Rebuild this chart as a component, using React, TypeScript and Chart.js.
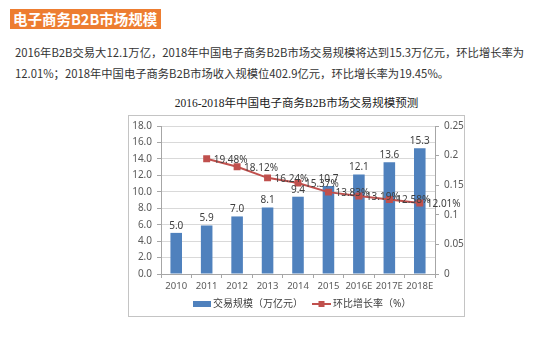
import React, { useEffect, useRef } from "react";
import { Chart, registerables } from "chart.js";

Chart.register(...registerables);

const categories = ["2010", "2011", "2012", "2013", "2014", "2015", "2016E", "2017E", "2018E"];
const tradeScale = [5.0, 5.9, 7.0, 8.1, 9.4, 10.7, 12.1, 13.6, 15.3];
const growthRate = [null, 0.1948, 0.1812, 0.1624, 0.1537, 0.1383, 0.1319, 0.1258, 0.1201];
const barLegend = "交易规模（万亿元）";
const lineLegend = "环比增长率（%）";
const chartTitle = "2016-2018年中国电子商务B2B市场交易规模预测";
const headerText = "电子商务B2B市场规模";
const paraLine1 = "2016年B2B交易大12.1万亿，2018年中国电子商务B2B市场交易规模将达到15.3万亿元，环比增长率为";
const paraLine2 = "12.01%；2018年中国电子商务B2B市场收入规模位402.9亿元，环比增长率为19.45%。";

const BLUE = "#4F81BD";
const RED = "#C0504D";
const FONT = "'Noto Sans', 'Noto Sans CJK SC', sans-serif";

const labelPlugin = {
  id: "customLabels",
  afterDatasetsDraw(chart: any) {
    const ctx = chart.ctx;
    ctx.save();
    ctx.font = "10px " + FONT;
    ctx.fillStyle = "#404040";
    const barMeta = chart.getDatasetMeta(0);
    barMeta.data.forEach((el: any, i: number) => {
      ctx.textAlign = "center";
      ctx.textBaseline = "bottom";
      ctx.fillText(tradeScale[i].toFixed(1), el.x, el.y - 2);
    });
    const lineMeta = chart.getDatasetMeta(1);
    lineMeta.data.forEach((el: any, i: number) => {
      const v = growthRate[i];
      if (v == null) return;
      ctx.textAlign = "left";
      ctx.textBaseline = "middle";
      ctx.fillText((v * 100).toFixed(2) + "%", el.x + 7, el.y + 1);
    });
    ctx.restore();
  },
  afterDraw(chart: any) {
    const ctx = chart.ctx;
    const area = chart.chartArea;
    const y = area.bottom + 30;
    const x0 = area.left + 32;
    ctx.save();
    ctx.font = "10px " + FONT;
    ctx.fillStyle = BLUE;
    ctx.fillRect(x0, y - 3, 18, 6);
    ctx.fillStyle = "#404040";
    ctx.textAlign = "left";
    ctx.textBaseline = "middle";
    ctx.fillText(barLegend, x0 + 20, y);
    const x1 = area.left + 151;
    ctx.strokeStyle = RED;
    ctx.lineWidth = 2;
    ctx.beginPath();
    ctx.moveTo(x1, y);
    ctx.lineTo(x1 + 19, y);
    ctx.stroke();
    ctx.fillStyle = RED;
    ctx.fillRect(x1 + 6.5, y - 3, 6, 6);
    ctx.fillStyle = "#404040";
    ctx.fillText(lineLegend, x1 + 21, y);
    ctx.restore();
  },
};

function ChartBox() {
  const ref = useRef<HTMLCanvasElement | null>(null);
  useEffect(() => {
    if (!ref.current) return;
    const chart = new Chart(ref.current, {
      type: "bar",
      data: {
        labels: categories,
        datasets: [
          {
            type: "bar",
            label: barLegend,
            data: tradeScale,
            backgroundColor: BLUE,
            barPercentage: 0.38,
            categoryPercentage: 1,
            yAxisID: "y",
            order: 2,
          },
          {
            type: "line",
            label: lineLegend,
            data: growthRate,
            borderColor: RED,
            backgroundColor: RED,
            borderWidth: 2,
            pointStyle: "rect",
            pointRadius: 3.5,
            pointBackgroundColor: RED,
            pointBorderColor: RED,
            yAxisID: "y1",
            order: 1,
          } as any,
        ],
      },
      options: {
        animation: false,
        responsive: false,
        maintainAspectRatio: false,
        layout: { padding: { top: 9, left: 0, right: 0, bottom: 0 } },
        plugins: {
          legend: { display: false },
          tooltip: { enabled: false },
          title: { display: false },
        },
        scales: {
          x: {
            offset: true,
            grid: {
              offset: true,
              drawOnChartArea: false,
              drawTicks: true,
              tickLength: 4,
              color: "#a6a6a6",
            },
            border: { color: "#a6a6a6" },
            ticks: {
              color: "#595959",
              font: { size: 9.5, family: FONT },
              padding: 3,
              maxRotation: 0,
              minRotation: 0,
              autoSkip: false,
            },
            afterFit: (s: any) => {
              s.height = 43;
            },
          },
          y: {
            position: "left",
            min: 0,
            max: 18,
            ticks: {
              stepSize: 2,
              color: "#595959",
              font: { size: 10, family: FONT },
              padding: 5,
              callback: (v: any) => Number(v).toFixed(1),
            },
            grid: { color: "#d9d9d9", tickLength: 4, tickColor: "#a6a6a6" },
            border: { color: "#a6a6a6" },
            afterFit: (s: any) => {
              s.width = 33;
            },
          },
          y1: {
            position: "right",
            min: 0,
            max: 0.25,
            ticks: {
              stepSize: 0.05,
              color: "#595959",
              font: { size: 10, family: FONT },
              padding: 5,
              callback: (v: any) => String(Number(Number(v).toFixed(2))),
            },
            grid: { drawOnChartArea: false, tickLength: 4, color: "#a6a6a6" },
            border: { color: "#a6a6a6" },
            afterFit: (s: any) => {
              s.width = 30;
            },
          },
        },
      } as any,
      plugins: [labelPlugin],
    });
    return () => chart.destroy();
  }, []);
  return <canvas ref={ref} width={337} height={202} style={{ position: "absolute", left: 128, top: 115, width: 337, height: 202 }} />;
}

export default function App() {
  return (
    <div style={{ position: "fixed", left: 0, top: 0, width: 558, height: 360, background: "#fff", overflow: "hidden" }}>
      <div
        style={{
          position: "absolute",
          left: 10,
          top: 9,
          width: 151,
          height: 20,
          background: "#ED7D31",
          color: "#fff",
          fontWeight: "bold",
          fontSize: 14.5,
          lineHeight: "20px",
          fontFamily: "'Noto Sans CJK SC', sans-serif",
          paddingLeft: 3,
          boxSizing: "border-box",
          whiteSpace: "nowrap",
        }}
      >
        {headerText}
      </div>
      <div
        style={{
          position: "absolute",
          left: 15,
          top: 42,
          fontSize: 11.3,
          lineHeight: "21px",
          color: "#333",
          fontFamily: "'Noto Sans CJK SC', sans-serif",
          whiteSpace: "nowrap",
        }}
      >
        <div>{paraLine1}</div>
        <div>{paraLine2}</div>
      </div>
      <div
        style={{
          position: "absolute",
          left: 128,
          width: 337,
          top: 95,
          textAlign: "center",
          fontSize: 11.5,
          lineHeight: "16px",
          color: "#222",
          fontFamily: "'Liberation Serif', 'Noto Sans CJK SC', serif",
          whiteSpace: "nowrap",
        }}
      >
        {chartTitle}
      </div>
      <div
        style={{
          position: "absolute",
          left: 128,
          top: 115,
          width: 337,
          height: 202,
          border: "1px solid #c4c4c4",
          boxSizing: "border-box",
        }}
      />
      <ChartBox />
    </div>
  );
}
